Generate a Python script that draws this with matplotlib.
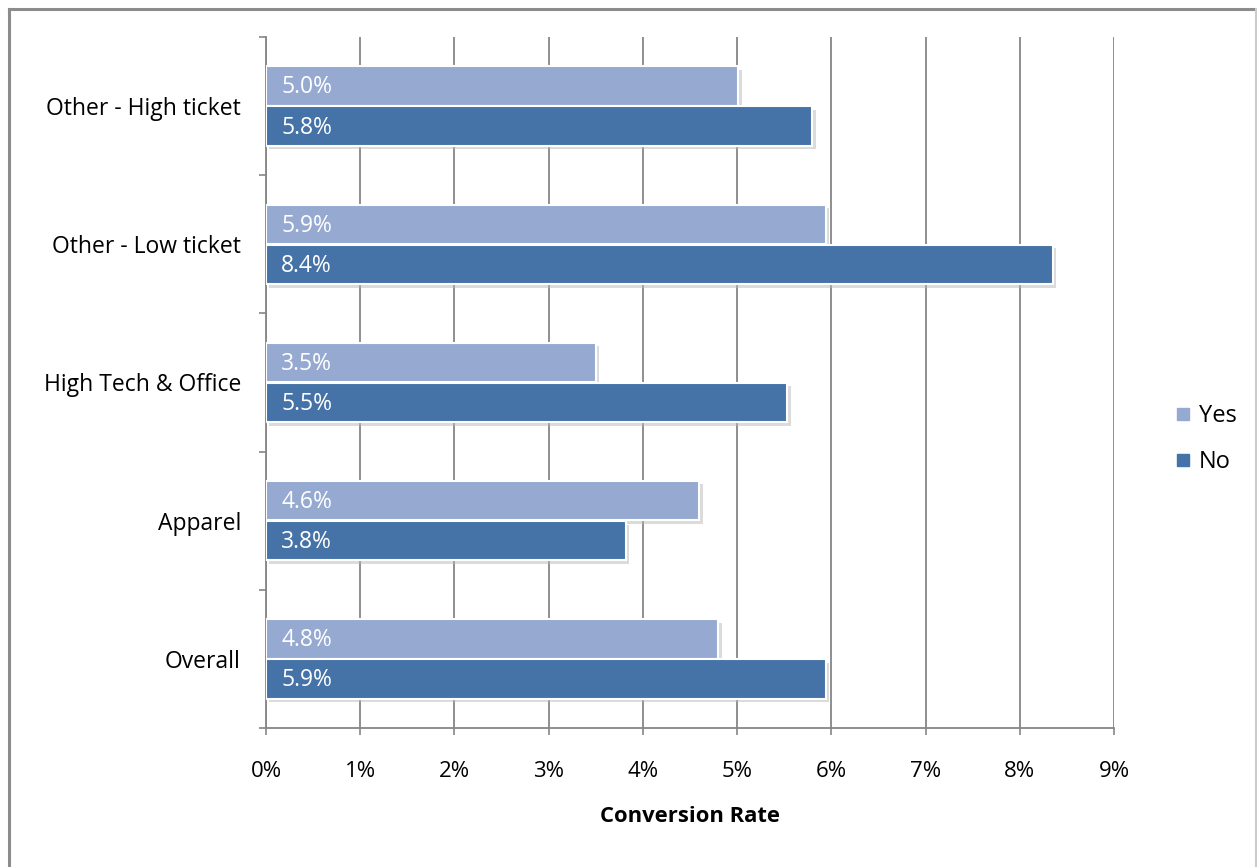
import matplotlib
matplotlib.use("Agg")
import matplotlib.pyplot as plt
import matplotlib.patheffects as pe
from matplotlib.lines import Line2D
import numpy as np

categories = ["Overall", "Apparel", "High Tech & Office", "Other - Low ticket", "Other - High ticket"]
yes_vals = [4.80, 4.60, 3.50, 5.94, 5.01]
no_vals = [5.94, 3.82, 5.53, 8.35, 5.80]
yes_labels = ["4.8%", "4.6%", "3.5%", "5.9%", "5.0%"]
no_labels = ["5.9%", "3.8%", "5.5%", "8.4%", "5.8%"]
x_ticks = list(range(0, 10))
x_ticklabels = [f"{t}%" for t in x_ticks]

YES_C = "#95A9D1"
NO_C = "#4673A7"
GRID_C = "#868686"
FONT = "Open Sans"

plt.rcParams['font.family'] = [FONT, 'DejaVu Sans']

fig = plt.figure(figsize=(12.57, 8.67), dpi=100)
ax = fig.add_axes([266/1257, 139/867, (1114-266)/1257, (728-37)/867])

y = np.arange(len(categories))
h = 0.285
off = 0.145
shadow = [pe.SimplePatchShadow(offset=(2.5, -2.5), shadow_rgbFace="#b8b8b8", alpha=0.5), pe.Normal()]
b1 = ax.barh(y + off, yes_vals, height=h, color=YES_C, edgecolor="white", linewidth=1.5, zorder=3)
b2 = ax.barh(y - off, no_vals, height=h, color=NO_C, edgecolor="white", linewidth=1.5, zorder=3)
for b in list(b1) + list(b2):
    b.set_path_effects(shadow)

for yi, lab in zip(y, yes_labels):
    ax.text(0.16, yi + off - 0.01, lab, color="white", fontsize=16.5, va="center", ha="left", zorder=4)
for yi, lab in zip(y, no_labels):
    ax.text(0.16, yi - off - 0.01, lab, color="white", fontsize=16.5, va="center", ha="left", zorder=4)

ax.set_xlim(0, 9)
ax.set_ylim(-0.5, len(categories) - 0.5)
ax.set_xticks(x_ticks)
ax.set_xticklabels(x_ticklabels, fontsize=16)
ax.set_yticks(y)
ax.set_yticklabels(categories, fontsize=16.5)
ax.set_yticks(np.arange(-0.5, len(categories)), minor=True)
ax.tick_params(axis="y", which="major", length=0, pad=18)
ax.tick_params(axis="y", which="minor", length=5, width=1.2, color=GRID_C, direction="out")
ax.tick_params(axis="x", which="major", length=5, width=1.2, color=GRID_C, direction="out", pad=19)

ax.grid(axis="x", color=GRID_C, linewidth=1.3, zorder=0)
ax.set_axisbelow(True)
for s in ["top", "right"]:
    ax.spines[s].set_visible(False)
for s in ["left", "bottom"]:
    ax.spines[s].set_color(GRID_C)
    ax.spines[s].set_linewidth(1.3)

ax.set_xlabel("Conversion Rate", fontsize=15.8, fontweight="bold", labelpad=17)

handles = [Line2D([], [], marker="s", linestyle="none", markersize=9, color=YES_C, label="Yes"),
           Line2D([], [], marker="s", linestyle="none", markersize=9, color=NO_C, label="No")]
fig.legend(handles=handles, loc="center left", bbox_to_anchor=(1148/1257, 1 - 439/867),
           frameon=False, fontsize=17, handletextpad=0.05, labelspacing=0.95, handlelength=1.2)

# outer chart border (top, left, right)
fig.add_artist(Line2D([9/1257, 9/1257], [0, 1 - 9/867], transform=fig.transFigure, color="#8c8c8c", linewidth=2.2))
fig.add_artist(Line2D([9/1257, 1], [1 - 9/867, 1 - 9/867], transform=fig.transFigure, color="#8c8c8c", linewidth=2.2))
fig.add_artist(Line2D([1256/1257, 1256/1257], [0, 1 - 9/867], transform=fig.transFigure, color="#cccccc", linewidth=1.5))

fig.savefig("out.png", dpi=100)
